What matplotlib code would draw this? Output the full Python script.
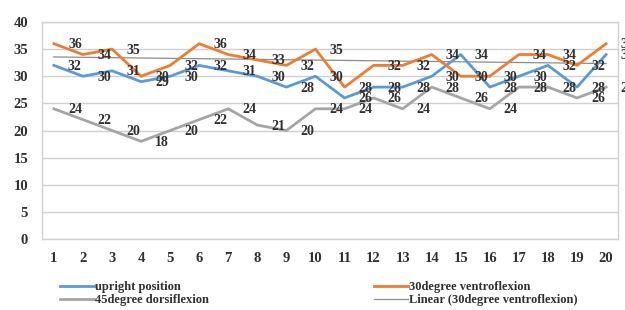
import numpy as np
import matplotlib
matplotlib.use("Agg")
import matplotlib.pyplot as plt

categories = list(range(1, 21))
upright = [32, 30, 31, 29, 30, 32, 31, 30, 28, 30, 26, 28, 28, 30, 34, 28, 30, 32, 28, 34]
ventro30 = [36, 34, 35, 30, 32, 36, 34, 33, 32, 35, 28, 32, 32, 34, 30, 30, 34, 34, 32, 36]
dorsi45 = [24, 22, 20, 18, 20, 22, 24, 21, 20, 24, 24, 26, 24, 28, 26, 24, 28, 28, 26, 28]
yticks = [0, 5, 10, 15, 20, 25, 30, 35, 40]

names = ["upright position", "30degree ventroflexion", "45degree dorsiflexion",
         "Linear (30degree ventroflexion)"]
colors = ["#5B9BD5", "#ED7D31", "#A5A5A5", "#8C8C8C"]

serif = ["Liberation Serif", "DejaVu Serif"]

fig = plt.figure(figsize=(6.25, 3.1), dpi=100)
W, H = 625, 310
ax = fig.add_axes([42 / W, 1 - 239 / H, (618 - 42) / W, (239 - 22) / H])

x = np.array(categories)
l1, = ax.plot(x, upright, color=colors[0], lw=2, zorder=3)
l2, = ax.plot(x, ventro30, color=colors[1], lw=2, zorder=3)
l3, = ax.plot(x, dorsi45, color=colors[2], lw=2, zorder=3)
coef = np.polyfit(x, ventro30, 1)
l4, = ax.plot(x, np.polyval(coef, x), color=colors[3], lw=0.9, zorder=2)

for series in (upright, ventro30, dorsi45):
    for xi, v in zip(x, series):
        ax.annotate(str(v), (xi, v), xytext=(21, -1), textcoords="offset pixels",
                    ha="center", va="center", fontsize=10, fontweight="bold",
                    family=serif, color="#303030", zorder=5, annotation_clip=False)

ax.set_xlim(0.59, 20.41)
ax.set_ylim(0, 40)
ax.set_yticks(yticks)
ax.set_xticks(categories)
ax.tick_params(length=0, pad=10)
for lab in ax.get_xticklabels() + ax.get_yticklabels():
    lab.set_family(serif)
    lab.set_fontweight("bold")
    lab.set_fontsize(10.5)
    lab.set_color("#303030")
ax.tick_params(axis="x", pad=9)
ax.grid(axis="y", color="#D0D0D0", lw=1)
ax.set_axisbelow(True)
for s in ax.spines.values():
    s.set_color("#D0D0D0")
    s.set_linewidth(1)

leg = fig.legend([l1, l3, l2, l4], [names[0], names[2], names[1], names[3]],
                 ncol=2, loc="upper left", bbox_to_anchor=(54 / W, 1 - 275 / H),
                 frameon=False, handlelength=2.7, handletextpad=0.1,
                 labelspacing=0.05, columnspacing=13.2, borderpad=0,
                 prop={"family": serif, "size": 9, "weight": "bold"})
for t in leg.get_texts():
    t.set_color("#303030")

fig.savefig("out.png", dpi=100)
